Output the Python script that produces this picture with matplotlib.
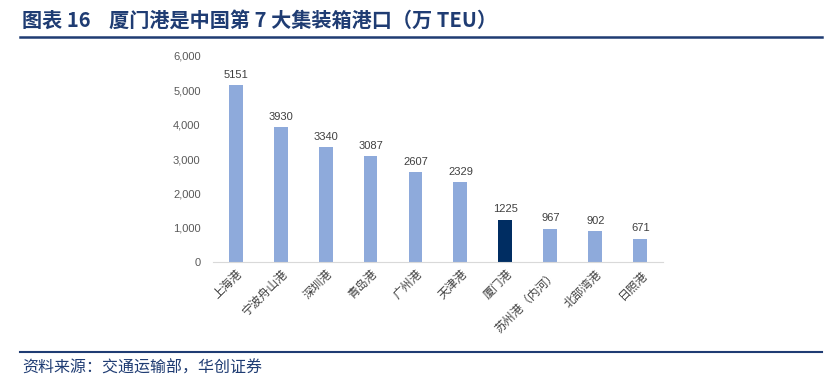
import matplotlib
matplotlib.use('Agg')
import matplotlib.pyplot as plt
from matplotlib.lines import Line2D

plt.rcParams['font.family'] = ['Noto Sans CJK SC', 'DejaVu Sans']

ports = ['上海港', '宁波舟山港', '深圳港', '青岛港', '广州港', '天津港',
         '厦门港', '苏州港（内河）', '北部湾港', '日照港']
teu = [5151, 3930, 3340, 3087, 2607, 2329, 1225, 967, 902, 671]
highlight = '厦门港'

fig = plt.figure(figsize=(8.39, 3.88), dpi=100)
ax = fig.add_axes([0.254, 0.3247, 0.536, 0.531])

colors = ['#002d62' if p == highlight else '#8eaadb' for p in ports]
x = range(len(ports))
bars = ax.bar(x, teu, width=0.31, color=colors)
for xi, v in zip(x, teu):
    ax.text(xi, v + 160, str(v), ha='center', va='bottom', fontsize=8,
            color='#404040', family='Liberation Sans')

ax.set_xlim(-0.5, len(ports) - 0.5)
ax.set_ylim(0, 6000)
ax.set_yticks(range(0, 6001, 1000))
ax.set_yticklabels([f'{t:,}' for t in range(0, 6001, 1000)],
                   fontsize=8, color='#595959', family='Liberation Sans')
ax.set_xticks(list(x))
ax.set_xticklabels(ports, rotation=45, ha='right', rotation_mode='anchor',
                   fontsize=8.5, color='#404040')
ax.tick_params(axis='y', length=0, pad=9)
ax.tick_params(axis='x', length=0, pad=4)
for s in ['top', 'right', 'left']:
    ax.spines[s].set_visible(False)
ax.spines['bottom'].set_color('#d9d9d9')

fig.text(0.026, 0.948, '图表 16    厦门港是中国第 7 大集装箱港口（万 TEU）',
         fontsize=14.5, fontweight='bold', color='#1f3c73', va='center')
fig.add_artist(Line2D([0.024, 0.98], [0.905, 0.905], color='#1f3c73', lw=1.8))
fig.add_artist(Line2D([0.024, 0.98], [0.093, 0.093], color='#1f3c73', lw=1.5))
fig.text(0.026, 0.052, '资料来源：交通运输部，华创证券', fontsize=11.5,
         color='#1f3c73', style='italic', va='center')

fig.savefig('out.png', dpi=100)
